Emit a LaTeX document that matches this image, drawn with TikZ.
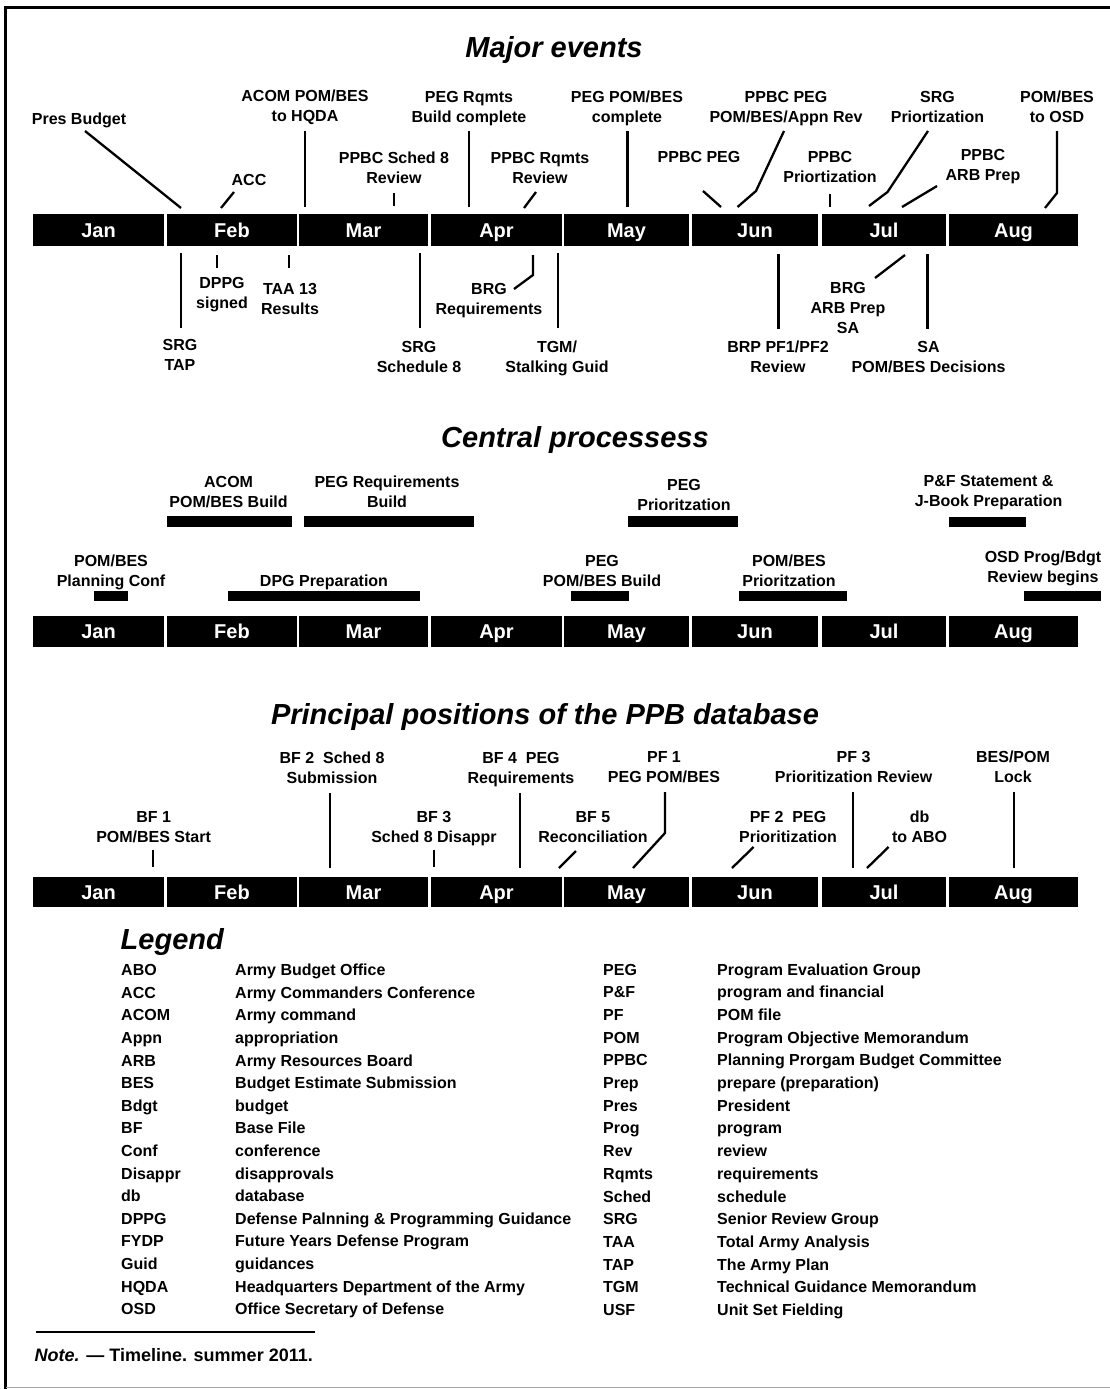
\documentclass[tikz,border=0pt]{standalone}
\usepackage{fontspec}
\setmainfont{Liberation Sans}
\begin{document}
\begin{tikzpicture}[x=1pt,y=-1pt,
  lbl/.style={font=\fontsize{16}{20}\selectfont\bfseries, align=center, inner sep=0pt, anchor=north},
  conn/.style={line width=2.3pt},
  mon/.style={fill=black, text=white, font=\fontsize{20}{24}\selectfont\bfseries, inner sep=0pt, text height=14.3pt, text depth=0pt},
  ttl/.style={font=\fontsize{29}{34}\selectfont\bfseries\itshape, inner sep=0pt, anchor=base},
  lega/.style={font=\fontsize{16}{20}\selectfont\bfseries, anchor=base west, inner sep=0pt},
  pbar/.style={fill=black}
]
\useasboundingbox (0,0) rectangle (1110,1389);
\fill[white] (0,0) rectangle (1110,1389);
% frame
\draw[line width=3pt] (5.5,1389) -- (5.5,7.5) -- (1110,7.5);
\draw[black!35, line width=1pt] (5.5,1387.5) -- (1110,1387.5);

% titles
\node[ttl] (t1) at (554,58) {Major events};
\node[ttl] (t2) at (575,447) {Central processess};
\node[ttl] (t3) at (545,724) {Principal positions of the PPB database};

% month bars
\foreach \r/\yc/\h in {A/230/32, B/631.5/31, C/892/30}{
  \foreach \m/\a/\b in {Jan/33/164, Feb/167/297, Mar/299/428, Apr/431/562, May/564/689, Jun/692/818, Jul/822/946, Aug/949/1078}{
    \node[mon, minimum width={\b-\a}, minimum height=\h] (\r\m) at ({(\a+\b)/2},\yc) {\m};
  }
}

% ---------------- Major events: labels above
\node[lbl] (presb) at (79,113) {Pres Budget};
\node[lbl] (acc) at (249,174) {ACC};
\node[lbl] (acom) at (305,90) {ACOM POM/BES\\to HQDA};
\node[lbl] (s8rev) at (394,152) {PPBC Sched 8\\Review};
\node[lbl] (pegrq) at (469,91) {PEG Rqmts\\Build complete};
\node[lbl] (ppbcrq) at (540,152) {PPBC Rqmts\\Review};
\node[lbl] (pegpom) at (627,91) {PEG POM/BES\\complete};
\node[lbl] (ppbcpeg) at (699,151) {PPBC PEG};
\node[lbl] (ppbcapp) at (786,91) {PPBC PEG\\POM/BES/Appn Rev};
\node[lbl] (ppbcprio) at (830,151) {PPBC\\Priortization};
\node[lbl] (srgprio) at (937.5,91) {SRG\\Priortization};
\node[lbl] (ppbcarb) at (983,149) {PPBC\\ARB Prep};
\node[lbl] (pomosd) at (1057,91) {POM/BES\\to OSD};

% labels below
\node[lbl] (srgtap) at (180,339) {SRG\\TAP};
\node[lbl] (dppg) at (222,277) {DPPG\\signed};
\node[lbl] (taa) at (290,283) {TAA 13\\Results};
\node[lbl] (srgs8) at (419,341) {SRG\\Schedule 8};
\node[lbl] (brgreq) at (489,283) {BRG\\Requirements};
\node[lbl] (tgm) at (557,341) {TGM/\\Stalking Guid};
\node[lbl] (brp) at (778,341) {BRP PF1/PF2\\Review};
\node[lbl] (brgarb) at (848,282) {BRG\\ARB Prep\\SA};
\node[lbl] (sa) at (928.6,341) {SA\\POM/BES Decisions};

% connectors major events
\coordinate (c1a) at (85,131);   \coordinate (c1b) at (181,208);
\coordinate (c2a) at (234,192);  \coordinate (c2b) at (221,208);
\coordinate (c3a) at (305,131);  \coordinate (c3b) at (305,207);
\coordinate (c4a) at (394,193);  \coordinate (c4b) at (394,206);
\coordinate (c5a) at (469,131);  \coordinate (c5b) at (469,207);
\coordinate (c6a) at (536,192);  \coordinate (c6b) at (524,208);
\coordinate (c7a) at (627.5,131);\coordinate (c7b) at (627.5,207);
\coordinate (c8a) at (703,191);  \coordinate (c8b) at (721,207);
\coordinate (c9a) at (784,131);  \coordinate (c9m) at (756,191); \coordinate (c9b) at (737.5,207);
\coordinate (c10a) at (830,194); \coordinate (c10b) at (830,207);
\coordinate (c11a) at (928,131); \coordinate (c11m) at (887.5,192); \coordinate (c11b) at (869,206);
\coordinate (c12a) at (937,186); \coordinate (c12b) at (902,207);
\coordinate (c13a) at (1057,131);\coordinate (c13m) at (1057,193); \coordinate (c13b) at (1045,208);
\draw[conn] (c1a) -- (c1b);
\draw[conn] (c2a) -- (c2b);
\draw[conn] (c3a) -- (c3b);
\draw[conn] (c4a) -- (c4b);
\draw[conn] (c5a) -- (c5b);
\draw[conn] (c6a) -- (c6b);
\draw[conn] (c7a) -- (c7b);
\draw[conn] (c8a) -- (c8b);
\draw[conn] (c9a) -- (c9m) -- (c9b);
\draw[conn] (c10a) -- (c10b);
\draw[conn] (c11a) -- (c11m) -- (c11b);
\draw[conn] (c12a) -- (c12b);
\draw[conn] (c13a) -- (c13m) -- (c13b);

\coordinate (d1a) at (181,253);  \coordinate (d1b) at (181,328);
\coordinate (d2a) at (217,255);  \coordinate (d2b) at (217,268);
\coordinate (d3a) at (289,255);  \coordinate (d3b) at (289,268);
\coordinate (d4a) at (420,253);  \coordinate (d4b) at (420,328);
\coordinate (d5a) at (533,255);  \coordinate (d5m) at (533,275); \coordinate (d5b) at (514,289);
\coordinate (d6a) at (558,253);  \coordinate (d6b) at (558,328);
\coordinate (d7a) at (778.6,254);\coordinate (d7b) at (778.6,329);
\coordinate (d8a) at (905,255);  \coordinate (d8b) at (875,278);
\coordinate (d9a) at (927.5,254);\coordinate (d9b) at (927.5,329);
\draw[conn] (d1a) -- (d1b);
\draw[conn] (d2a) -- (d2b);
\draw[conn] (d3a) -- (d3b);
\draw[conn] (d4a) -- (d4b);
\draw[conn] (d5a) -- (d5m) -- (d5b);
\draw[conn] (d6a) -- (d6b);
\draw[conn] (d7a) -- (d7b);
\draw[conn] (d8a) -- (d8b);
\draw[conn] (d9a) -- (d9b);

% ---------------- Central processes
\node[lbl] (cacom) at (228.6,476) {ACOM\\POM/BES Build};
\node[lbl] (cpegreq) at (387,476) {PEG Requirements\\Build};
\node[lbl] (cplan) at (111,555) {POM/BES\\Planning Conf};
\node[lbl] (cdpg) at (324,575) {DPG Preparation};
\node[lbl] (cpegprio) at (684,479) {PEG\\Prioritzation};
\node[lbl] (cpf) at (988.6,475) {P\&F Statement \&\\J-Book Preparation};
\node[lbl] (cpegpom) at (602,555) {PEG\\POM/BES Build};
\node[lbl] (cpomprio) at (789,555) {POM/BES\\Prioritzation};
\node[lbl] (cosd) at (1043,551) {OSD Prog/Bdgt\\Review begins};
\fill[pbar] (167,516) rectangle (292,527);
\fill[pbar] (304,516) rectangle (474,527);
\fill[pbar] (93.6,591) rectangle (127.5,601);
\fill[pbar] (228,591) rectangle (420,601);
\fill[pbar] (628,516) rectangle (738,527);
\fill[pbar] (949,517) rectangle (1026,527);
\fill[pbar] (571,591) rectangle (629,601);
\fill[pbar] (739,591) rectangle (847,601);
\fill[pbar] (1024,591) rectangle (1101,601);

% ---------------- PPB database
\node[lbl] (bf1) at (153.6,811) {BF 1\\POM/BES Start};
\node[lbl] (bf2) at (332,752) {BF 2\ \ Sched 8\\Submission};
\node[lbl] (bf3) at (434,811) {BF 3\\Sched 8 Disappr};
\node[lbl] (bf4) at (521,752) {BF 4\ \ PEG\\Requirements};
\node[lbl] (bf5) at (593,811) {BF 5\\Reconciliation};
\node[lbl] (pf1) at (664,751) {PF 1\\PEG POM/BES};
\node[lbl] (pf2) at (788,811) {PF 2\ \ PEG\\Prioritization};
\node[lbl] (pf3) at (853.6,751) {PF 3\\Prioritization Review};
\node[lbl] (db) at (919.6,811) {db\\to ABO};
\node[lbl] (lock) at (1013,751) {BES/POM\\Lock};

\coordinate (e1a) at (153,850);  \coordinate (e1b) at (153,867);
\coordinate (e2a) at (330,793);  \coordinate (e2b) at (330,868);
\coordinate (e3a) at (434,850);  \coordinate (e3b) at (434,867);
\coordinate (e4a) at (520,793);  \coordinate (e4b) at (520,868);
\coordinate (e5a) at (576,851);  \coordinate (e5b) at (559,868);
\coordinate (e6a) at (665,792);  \coordinate (e6m) at (665,833); \coordinate (e6b) at (633,868);
\coordinate (e7a) at (753.6,847);\coordinate (e7b) at (732,868);
\coordinate (e8a) at (853,792);  \coordinate (e8b) at (853,868);
\coordinate (e9a) at (888.6,847);\coordinate (e9b) at (867,868);
\coordinate (e10a) at (1014,792);\coordinate (e10b) at (1014,868);
\draw[conn] (e1a) -- (e1b);
\draw[conn] (e2a) -- (e2b);
\draw[conn] (e3a) -- (e3b);
\draw[conn] (e4a) -- (e4b);
\draw[conn] (e5a) -- (e5b);
\draw[conn] (e6a) -- (e6m) -- (e6b);
\draw[conn] (e7a) -- (e7b);
\draw[conn] (e8a) -- (e8b);
\draw[conn] (e9a) -- (e9b);
\draw[conn] (e10a) -- (e10b);

% ---------------- Legend
\node[ttl, anchor=base west] (legt) at (120.5,949) {Legend};
\foreach \ab/\df [count=\n from 0] in {ABO/Army Budget Office, ACC/Army Commanders Conference, ACOM/Army command, Appn/appropriation, ARB/Army Resources Board, BES/Budget Estimate Submission, Bdgt/budget, BF/Base File, Conf/conference, Disappr/disapprovals, db/database, DPPG/Defense Palnning \& Programming Guidance, FYDP/Future Years Defense Program, Guid/guidances, HQDA/Headquarters Department of the Army, OSD/Office Secretary of Defense}{
  \node[lega] (la\n) at (121,{975.7+22.6*\n}) {\ab};
  \node[lega] (ld\n) at (235,{975.7+22.6*\n}) {\df};
}
\foreach \ab/\df [count=\n from 0] in {PEG/Program Evaluation Group, P\&F/program and financial, PF/POM file, POM/Program Objective Memorandum, PPBC/Planning Prorgam Budget Committee, Prep/prepare (preparation), Pres/President, Prog/program, Rev/review, Rqmts/requirements, Sched/schedule, SRG/Senior Review Group, TAA/Total Army Analysis, TAP/The Army Plan, TGM/Technical Guidance Memorandum, USF/Unit Set Fielding}{
  \node[lega] (ra\n) at (603,{975+22.7*\n}) {\ab};
  \node[lega] (rd\n) at (717,{975+22.7*\n}) {\df};
}

% note
\draw[line width=2pt] (36,1332) -- (315,1332);
\node[lega, font=\fontsize{18}{22}\selectfont\bfseries] (note) at (34.5,1361) {\textit{Note.} --- Timeline. summer 2011.};
\end{tikzpicture}
\end{document}
